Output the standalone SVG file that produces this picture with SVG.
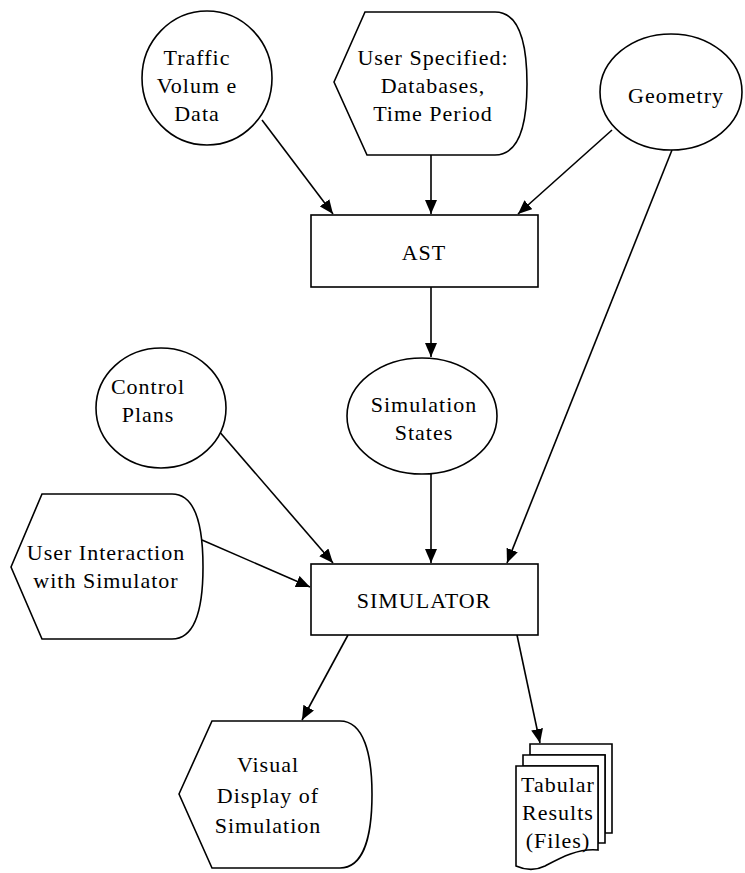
<svg xmlns="http://www.w3.org/2000/svg" width="745" height="873" viewBox="0 0 745 873" font-family="Liberation Serif, Times New Roman, DejaVu Serif, serif">
<style>
.s{fill:#fff;stroke:#000;stroke-width:1.6}
.t{font-size:22px;letter-spacing:1px;text-anchor:middle;fill:#000}
.c{stroke:#000;stroke-width:1.6;fill:none;marker-end:url(#ah)}
</style>
<defs>
<marker id="ah" markerUnits="userSpaceOnUse" markerWidth="14" markerHeight="12" refX="14" refY="6" orient="auto">
<path d="M0,0 L14,6 L0,12 z" fill="#000"/>
</marker>
</defs>
<rect width="745" height="873" fill="#fff"/>
<g id="connectors">
<line class="c" x1="262" y1="120" x2="333" y2="214"/>
<line class="c" x1="431" y1="155" x2="431" y2="214"/>
<line class="c" x1="612" y1="130" x2="518" y2="214"/>
<line class="c" x1="431" y1="287" x2="431" y2="357"/>
<line class="c" x1="218" y1="430" x2="333" y2="563"/>
<line class="c" x1="431" y1="474" x2="431" y2="563"/>
<line class="c" x1="672" y1="150" x2="507" y2="563"/>
<line class="c" x1="202" y1="540" x2="310" y2="587"/>
<line class="c" x1="348" y1="635" x2="302" y2="720"/>
<line class="c" x1="517" y1="635" x2="540" y2="743"/>
</g>
<g id="traffic">
<ellipse class="s" cx="207" cy="78" rx="65" ry="67"/>
<text class="t" x="197" y="65">Traffic</text>
<text class="t" x="197" y="93">Volum e</text>
<text class="t" x="197" y="121">Data</text>
</g>
<g id="userspec">
<path class="s" d="M334,82 L365,12 L495,12 C518,12 527,40 527,84 C527,128 518,155 495,155 L367,155 Z"/>
<text class="t" x="433" y="65">User Specified:</text>
<text class="t" x="433" y="93">Databases,</text>
<text class="t" x="433" y="121">Time Period</text>
</g>
<g id="geometry">
<ellipse class="s" cx="671" cy="92" rx="71" ry="58"/>
<text class="t" x="676" y="103">Geometry</text>
</g>
<g id="ast">
<rect class="s" x="311" y="215" width="227" height="72"/>
<text class="t" x="424" y="260">AST</text>
</g>
<g id="simstates">
<ellipse class="s" cx="422" cy="416" rx="75" ry="58"/>
<text class="t" x="424" y="412">Simulation</text>
<text class="t" x="424" y="440">States</text>
</g>
<g id="control">
<ellipse class="s" cx="161" cy="408" rx="65" ry="60"/>
<text class="t" x="148" y="394">Control</text>
<text class="t" x="148" y="422">Plans</text>
</g>
<g id="userinter">
<path class="s" d="M11,567 L42,494 L172,494 C195,494 203,525 203,567 C203,609 195,639 172,639 L42,639 Z"/>
<text class="t" x="106" y="560">User Interaction</text>
<text class="t" x="106" y="588">with Simulator</text>
</g>
<g id="simulator">
<rect class="s" x="311" y="564" width="227" height="71"/>
<text class="t" x="424" y="608">SIMULATOR</text>
</g>
<g id="visual">
<path class="s" d="M179,794 L212,721 L340,721 C364,721 372,755 372,794 C372,835 364,868 340,868 L212,868 Z"/>
<text class="t" x="268" y="772">Visual</text>
<text class="t" x="268" y="803">Display of</text>
<text class="t" x="268" y="833">Simulation</text>
</g>
<g id="tabular">
<path class="s" d="M530,744 L612,744 L612,833 L605,833 L605,755 L530,755 Z"/>
<path class="s" d="M523,755 L605,755 L605,843 L598,843 L598,766 L523,766 Z"/>
<path class="s" d="M516,766 L598,766 L598,850 C578,848 560,858 545,866 C535,871 525,870 516,866 Z"/>
<text class="t" x="558" y="792">Tabular</text>
<text class="t" x="558" y="820">Results</text>
<text class="t" x="558" y="848">(Files)</text>
</g>
</svg>
